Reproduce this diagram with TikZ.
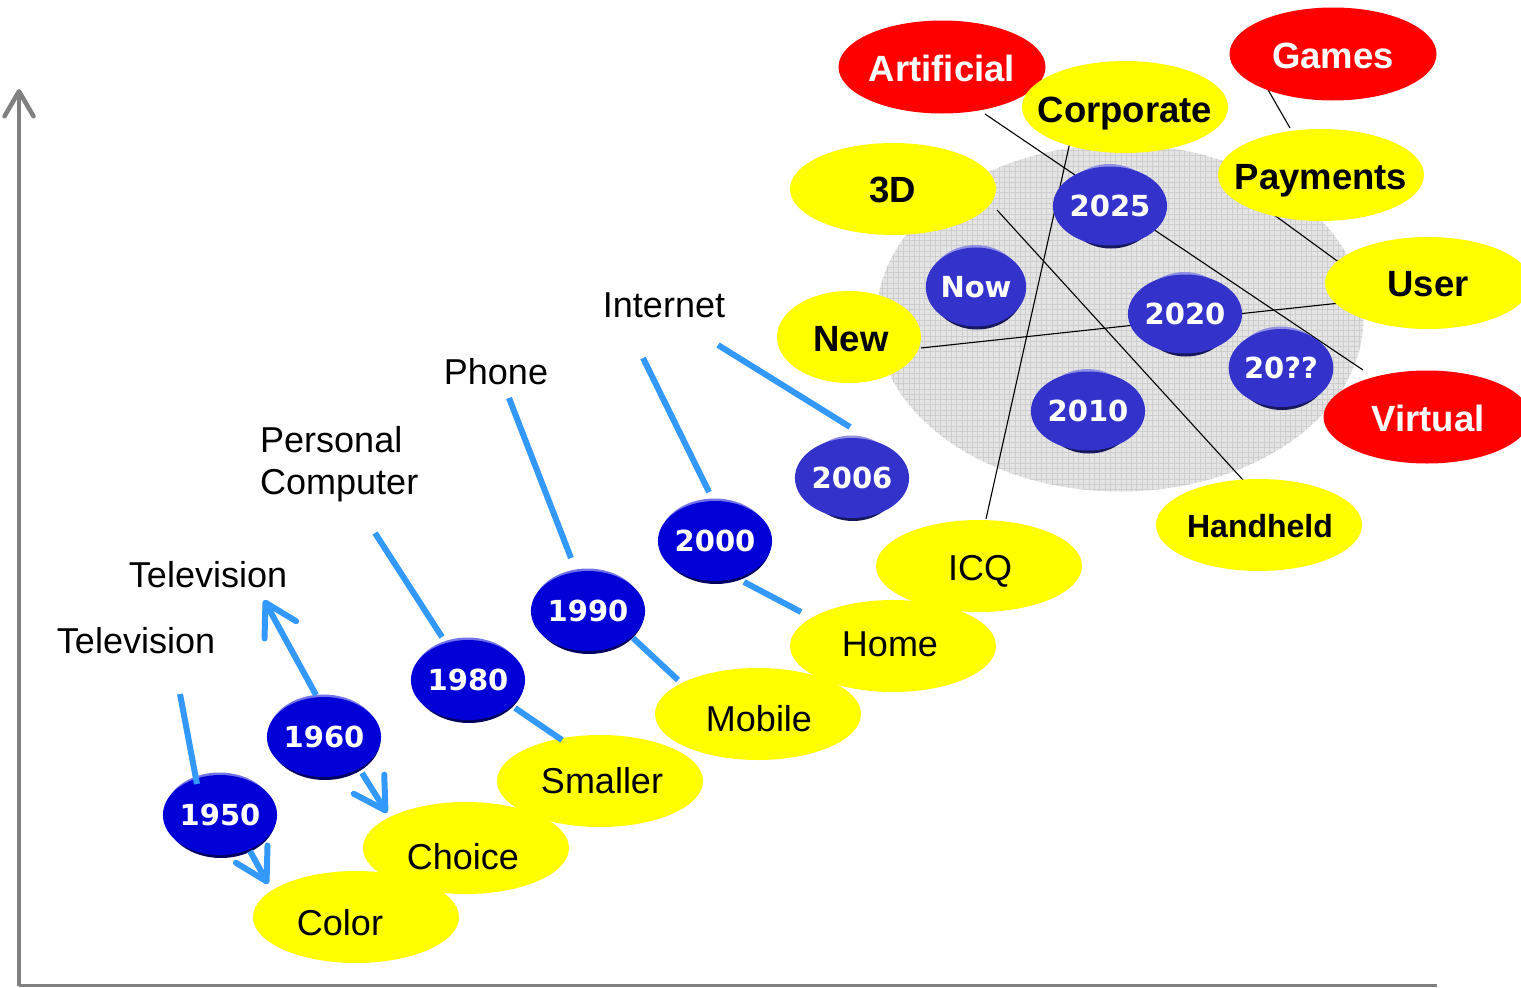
\documentclass[tikz,border=0pt]{standalone}
\usepackage{fontspec}
\setmainfont{Liberation Sans}
\newfontfamily\yearfont{DejaVu Sans}
\usetikzlibrary{arrows.meta,calc,shapes.geometric}
\pgfdeclarelayer{cloudlayer}
\pgfdeclarelayer{threadlayer}
\pgfsetlayers{cloudlayer,threadlayer,main}

\definecolor{bubyellow}{RGB}{255,255,0}
\definecolor{bubred}{RGB}{255,0,0}
\definecolor{linkblue}{RGB}{51,153,255}
\definecolor{deepblue}{RGB}{0,0,215}
\definecolor{softblue}{RGB}{51,51,204}
\definecolor{cloudgrey}{RGB}{228,228,228}
\definecolor{cloudgrid}{RGB}{206,206,206}
\definecolor{axisgrey}{RGB}{128,128,128}

% A year disc: light rim on top, dark rim below, white bold year on it.
% #1 name, #2 x, #3 y, #4 x radius, #5 y radius, #6 colour, #7 text
\newcommand\yearball[7]{%
  \pgfmathsetmacro\ybwidth{2*#4-4}%
  \pgfmathsetmacro\ybheight{2*#5-4}%
  \fill[#6!55!white] (#2-0.5,#3-1.5) ellipse [x radius=#4-1, y radius=#5-1];
  \fill[#6!45!black] (#2+1,#3+2) ellipse [x radius=#4-1, y radius=#5-1];
  \node[yearnode, fill=#6, minimum width=\ybwidth pt, minimum height=\ybheight pt] (#1) at (#2,#3) {#7};
}

\begin{document}
\begin{tikzpicture}[x=1pt,y=-1pt,
  bubble/.style={ellipse,inner sep=0pt,outer sep=0pt,minimum width=206pt,minimum height=92pt},
  yellowbub/.style={bubble,fill=bubyellow},
  redbub/.style={bubble,fill=bubred,minimum width=207pt,minimum height=93pt},
  plainlbl/.style={inner sep=0pt,font=\fontsize{36}{42}\selectfont},
  boldlbl/.style={inner sep=0pt,font=\fontsize{36.5}{42}\selectfont\bfseries},
  whitelbl/.style={boldlbl,text=white},
  yearnode/.style={ellipse,inner sep=0pt,outer sep=0pt,text=white,font=\yearfont\bfseries\fontsize{29}{31}\selectfont},
  link/.style={draw=linkblue,line width=6pt},
  linkarrow/.style={link,-{Straight Barb[length=31pt,width=36pt,round]}},
  thread/.style={draw=black,line width=1.1pt},
  axis/.style={draw=axisgrey,line width=4.5pt}]

\useasboundingbox (0,0) rectangle (1521,988);

% axes
\coordinate (origin) at (19,985.5);
\coordinate (ytop) at (19,89);
\coordinate (xend) at (1437,985.5);
\draw[axis,line width=3pt] (origin) -- (xend);
\draw[axis,-{Straight Barb[length=25pt,width=29pt,round]}] (origin) -- (ytop);

% the grey future cloud with its fine grid
\begin{pgfonlayer}{cloudlayer}
  \node[ellipse,fill=cloudgrey,inner sep=0pt,minimum width=487pt,minimum height=347pt] (cloud) at (1120,318) {};
  \begin{scope}
    \clip (1120,318) ellipse [x radius=243.5, y radius=173.5];
    \foreach \i in {0,...,93} \draw[cloudgrid,line width=0.45pt] ({877+5.3*\i},140) -- ++(0,360);
    \foreach \j in {0,...,67} \draw[cloudgrid,line width=0.45pt] (870,{145+5.3*\j}) -- ++(500,0);
  \end{scope}
\end{pgfonlayer}

% red bubbles
\node[redbub] (artB) at (942,67) {};
\node[redbub] (gamesB) at (1333,54) {};
\node[redbub] (virtB) at (1427,417) {};

% yellow bubbles
\node[yellowbub] (corpB) at (1125,107) {};
\node[yellowbub] (d3B) at (893,189) {};
\node[yellowbub] (payB) at (1321,175) {};
\node[yellowbub] (userB) at (1428,283) {};
\node[yellowbub,minimum width=144pt] (newB) at (849,337) {};
\node[yellowbub] (handB) at (1259,525) {};
\node[yellowbub] (icqB) at (979,566) {};
\node[yellowbub] (homeB) at (893,646) {};
\node[yellowbub] (mobileB) at (758,714) {};
\node[yellowbub] (smallerB) at (600,781) {};
\node[yellowbub] (choiceB) at (466,848) {};
\node[yellowbub] (colorB) at (356,917) {};

% bubble texts
\node[whitelbl,anchor=base] (artT) at (942,81) {Artificial};
\node[whitelbl,anchor=base] (gamesT) at (1333,68) {Games};
\node[whitelbl,anchor=base] (virtT) at (1428,431) {Virtual};
\node[boldlbl,anchor=base] (corpT) at (1125,122) {Corporate};
\node[boldlbl,anchor=base] (d3T) at (893,202) {3D};
\node[boldlbl,anchor=base] (payT) at (1321,189) {Payments};
\node[boldlbl,anchor=base] (userT) at (1428,296) {User};
\node[boldlbl,anchor=base] (newT) at (851,351) {New};
\node[boldlbl,anchor=base,font=\fontsize{32}{36}\selectfont\bfseries] (handT) at (1260,537) {Handheld};
\node[plainlbl,anchor=base] (icqT) at (980,580) {ICQ};
\node[plainlbl,anchor=base] (homeT) at (890,656) {Home};
\node[plainlbl,anchor=base] (mobileT) at (759,731) {Mobile};
\node[plainlbl,anchor=base] (smallerT) at (602,793) {Smaller};
\node[plainlbl,anchor=base] (choiceT) at (463,869) {Choice};
\node[plainlbl,anchor=base] (colorT) at (340,935) {Color};

% technology labels
\node[plainlbl,anchor=base] (tvA) at (136,653) {Television};
\node[plainlbl,anchor=base] (tvB) at (208,587) {Television};
\node[plainlbl,anchor=north west,align=left] (pc) at (260,426) {Personal\\Computer};
\node[plainlbl,anchor=base] (phone) at (496,384) {Phone};
\node[plainlbl,anchor=base] (net) at (664,317) {Internet};

% year discs
\yearball{y1950}{220}{815}{56}{42}{deepblue}{1950}
\yearball{y1960}{324}{737}{56.5}{42}{deepblue}{1960}
\yearball{y1980}{468}{680}{56}{42}{deepblue}{1980}
\yearball{y1990}{588}{611}{56}{42}{deepblue}{1990}
\yearball{y2000}{715}{541}{56}{42}{deepblue}{2000}
\yearball{y2006}{852}{478}{48}{42}{softblue}{2006}
\yearball{ynow}{976}{287}{48}{41.5}{softblue}{Now}
\yearball{y2025}{1110}{206}{48}{41.5}{softblue}{2025}
\yearball{y2020}{1185}{314}{47.5}{41.5}{softblue}{2020}
\yearball{yq}{1281}{368}{48}{41}{softblue}{20??}
\yearball{y2010}{1088}{411}{48}{41.5}{softblue}{2010}

% thin threads across the cloud
\begin{pgfonlayer}{threadlayer}
  \draw[thread] ($(artB)+(43,47)$) -- ($(y2025)+(-35,-31)$);
  \draw[thread] ($(y2025)+(43,23)$) -- ($(virtB)+(-64,-47)$);
  \draw[thread] ($(corpB)+(-55,35)$) -- ($(icqB)+(7,-47)$);
  \draw[thread] ($(d3B)+(104,21)$) -- ($(handB)+(-16,-45)$);
  \draw[thread] ($(newB)+(72,11)$) -- ($(userB)+(-88,20)$);
  \draw[thread] ($(gamesB)+(-66,34)$) -- ($(payB)+(-31,-47)$);
  \draw[thread] ($(payB)+(-55,34)$) -- ($(userB)+(-88,-20)$);
\end{pgfonlayer}

% blue links between technologies, years and outcomes
\draw[link] ($(tvA.base)+(44,41)$) -- ($(y1950)+(-23,-31)$);
\draw[linkarrow] ($(y1950)+(30,36)$) -- ($(colorB)+(-88,-33)$);
\draw[linkarrow] ($(y1960)+(-8,-42)$) -- ($(tvB.base)+(56,13)$);
\draw[linkarrow] ($(y1960)+(38,36)$) -- ($(choiceB)+(-79,-35)$);
\draw[link] ($(pc.north west)+(115,107)$) -- ($(y1980)+(-26,-43)$);
\draw[link] ($(y1980)+(47,28)$) -- ($(smallerB)+(-38,-41)$);
\draw[link] ($(phone.base)+(13,14)$) -- ($(y1990)+(-17,-53)$);
\draw[link] ($(y1990)+(45,27)$) -- ($(mobileB)+(-80,-34)$);
\draw[link] ($(net.base)+(-21,41)$) -- ($(y2000)+(-6,-49)$);
\draw[link] ($(y2000)+(29,41)$) -- ($(homeB)+(-92,-34)$);
\draw[link] ($(net.base)+(54,28)$) -- ($(y2006)+(-2,-51)$);

\end{tikzpicture}
\end{document}
